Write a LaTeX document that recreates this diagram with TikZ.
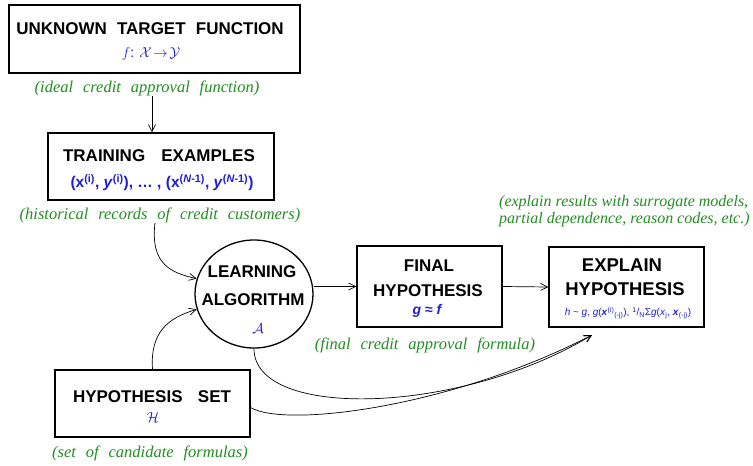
\documentclass[tikz,border=0pt]{standalone}
\usepackage{fontspec}
\setmainfont{Liberation Sans}
\newfontfamily\grnfont{Liberation Serif}
\usetikzlibrary{arrows.meta,shapes.geometric}
\definecolor{lblgreen}{RGB}{36,142,36}
\definecolor{fblue}{RGB}{30,30,215}
\newcommand\mywidesp{\spaceskip=0.6em\relax}
\begin{document}
\begin{tikzpicture}[x=1pt,y=-1pt,
  box/.style={draw, line width=1.3pt, inner sep=0pt},
  ttl/.style={inner sep=0pt, font={\bfseries\fontsize{17}{20}\selectfont\mywidesp}},
  bigttl/.style={inner sep=0pt, font={\bfseries\fontsize{18.5}{20}\selectfont}},
  sub/.style={text=fblue, inner sep=0pt},
  note/.style={text=lblgreen, inner sep=0pt, font={\grnfont\itshape\fontsize{16.5}{18}\selectfont\mywidesp}},
  conn/.style={line width=0.7pt, -{Straight Barb[length=7pt,width=7pt]}}]
\useasboundingbox[fill=white] (0,0) rectangle (753,466);

% target function
\node[box, minimum width=291pt, minimum height=68pt] (target) at (154.5,39) {};
\node[ttl] (tgtT) at (150,29) {UNKNOWN TARGET FUNCTION};
\node[sub, font=\fontsize{14}{16}\selectfont] (tgtF) at (151,54) {$f$: $\mathcal{X}\!\rightarrow\!\mathcal{Y}$};
\node[note] (ideal) at (147,88) {(ideal credit approval function)};

% training examples
\node[box, minimum width=226pt, minimum height=67pt] (train) at (161,166.5) {};
\node[ttl] (trainT) at (159,156) {TRAINING\hspace{0.35em} EXAMPLES};
\node[sub, font=\bfseries\fontsize{15.5}{17}\selectfont] (trainF) at (162,183)
  {(x\textsuperscript{(i)}, \textit{y}\textsuperscript{(i)}), \dots\ , (x\textsuperscript{(\textit{N}-1)}, \textit{y}\textsuperscript{(\textit{N}-1)})};
\node[note] (hist) at (160,215) {(historical records of credit customers)};

% learning algorithm
\node[draw, ellipse, line width=1.3pt, minimum width=118pt, minimum height=108pt, inner sep=0pt] (alg) at (254,294) {};
\node[ttl] (algT1) at (252,272) {LEARNING};
\node[ttl] (algT2) at (253,300) {ALGORITHM};
\node[sub, font=\fontsize{14}{16}\selectfont] (algF) at (258,329) {$\mathcal{A}$};

% final hypothesis
\node[box, minimum width=145pt, minimum height=81pt] (final) at (429.5,286.5) {};
\node[ttl] (finT1) at (429,266) {FINAL};
\node[ttl] (finT2) at (428,291) {HYPOTHESIS};
\node[sub, font=\bfseries\itshape\fontsize{14}{16}\selectfont] (finF) at (427,311) {g \textup{≈} f};
\node[note] (finN) at (425,345) {(final credit approval formula)};

% explain hypothesis
\node[box, minimum width=155pt, minimum height=80pt] (explain) at (626.5,287) {};
\node[bigttl] (expT1) at (622,265) {EXPLAIN};
\node[bigttl] (expT2) at (625,289) {HYPOTHESIS};
\node[sub, font=\fontsize{10}{12}\selectfont] (expF) at (628,313)
  {\textit{h} \textasciitilde\ \textit{g}, \textit{g}(\textbf{\textit{x}}\textsuperscript{(i)}\textsubscript{(-j)}), \textsuperscript{1}/\textsubscript{N}Σ\textit{g}(\textit{x}\textsubscript{j}, \textbf{\textit{x}}\textsubscript{(-j)})};
\node[text=lblgreen, inner sep=0pt, anchor=north west, align=left,
      font={\grnfont\itshape\fontsize{16}{17}\selectfont}] (expN) at (499,195)
  {(explain results with surrogate models,\\partial dependence, reason codes, etc.)};

% hypothesis set
\node[box, minimum width=195pt, minimum height=67pt] (hyp) at (152.5,403.5) {};
\node[ttl] (hypT) at (152,397) {HYPOTHESIS\hspace{0.3em} SET};
\node[sub, font=\fontsize{14}{16}\selectfont] (hypF) at (153,418) {$\mathcal{H}$};
\node[note] (hypN) at (150,453) {(set of candidate formulas)};

% connectors
\draw[conn] ([xshift=-9pt]train.north |- ideal.south) -- ([xshift=-9pt]train.north);
\draw[conn] ([xshift=-5pt]hist.south) .. controls (150,265) and (172,273) .. (alg.165);
\draw[conn] (hyp.north) .. controls (150,332) and (168,318) .. (alg.195);
\draw[conn] (alg.east |- final.west) -- (final.west);
\draw[conn] (final.east) -- (explain.west);
\coordinate (tip) at (592,335);
\draw[conn] (alg.south) .. controls (254,420) and (460,415) .. (tip);
\draw[conn] ([yshift=-4pt]hyp.east) .. controls (285,428) and (450,408) .. (tip);
\end{tikzpicture}
\end{document}
